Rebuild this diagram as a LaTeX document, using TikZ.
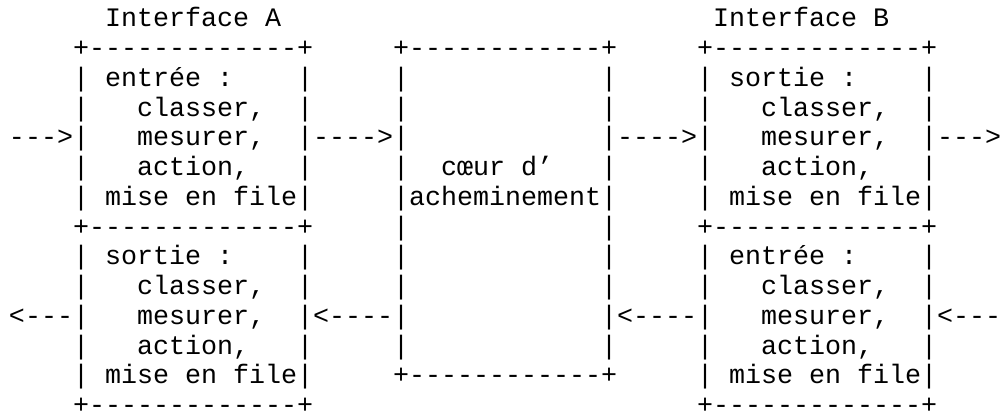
\documentclass[tikz,border=0pt]{standalone}
\usepackage{fontspec}
\setmonofont{Liberation Mono}
\newcommand\Sp[1]{\hspace*{#1\dimexpr0.6em\relax}}
\begin{document}
\begin{tikzpicture}[x=1pt,y=1pt,
  asciirow/.style={anchor=base west, inner sep=0pt, outer sep=0pt,
    text depth=0pt, text=black, font=\ttfamily\fontsize{26.67}{30}\selectfont}]
\useasboundingbox (0,0) rectangle (1002,-419);
\newcommand\R[3]{\node[asciirow] (#1) at (9,{-27-29.75*(#2-1)}) {#3};}
\R{r1}{1}{\Sp{6}Interface A\Sp{27}Interface B}
\R{r2}{2}{\Sp{4}+-------------+\Sp{5}+------------+\Sp{5}+-------------+}
\R{r3}{3}{\Sp{4}|\Sp{1}entrée :\Sp{4}|\Sp{5}|\Sp{12}|\Sp{5}|\Sp{1}sortie :\Sp{4}|}
\R{r4}{4}{\Sp{4}|\Sp{3}classer,\Sp{2}|\Sp{5}|\Sp{12}|\Sp{5}|\Sp{3}classer,\Sp{2}|}
\R{r5}{5}{--->|\Sp{3}mesurer,\Sp{2}|---->|\Sp{12}|---->|\Sp{3}mesurer,\Sp{2}|--->}
\R{r6}{6}{\Sp{4}|\Sp{3}action,\Sp{3}|\Sp{5}|\Sp{2}cœur d’\Sp{3}|\Sp{5}|\Sp{3}action,\Sp{3}|}
\R{r7}{7}{\Sp{4}|\Sp{1}mise en file|\Sp{5}|acheminement|\Sp{5}|\Sp{1}mise en file|}
\R{r8}{8}{\Sp{4}+-------------+\Sp{5}|\Sp{12}|\Sp{5}+-------------+}
\R{r9}{9}{\Sp{4}|\Sp{1}sortie :\Sp{4}|\Sp{5}|\Sp{12}|\Sp{5}|\Sp{1}entrée :\Sp{4}|}
\R{r10}{10}{\Sp{4}|\Sp{3}classer,\Sp{2}|\Sp{5}|\Sp{12}|\Sp{5}|\Sp{3}classer,\Sp{2}|}
\R{r11}{11}{<---|\Sp{3}mesurer,\Sp{2}|<----|\Sp{12}|<----|\Sp{3}mesurer,\Sp{2}|<---}
\R{r12}{12}{\Sp{4}|\Sp{3}action,\Sp{3}|\Sp{5}|\Sp{12}|\Sp{5}|\Sp{3}action,\Sp{3}|}
\R{r13}{13}{\Sp{4}|\Sp{1}mise en file|\Sp{5}+------------+\Sp{5}|\Sp{1}mise en file|}
\R{r14}{14}{\Sp{4}+-------------+\Sp{24}+-------------+}
\end{tikzpicture}
\end{document}
